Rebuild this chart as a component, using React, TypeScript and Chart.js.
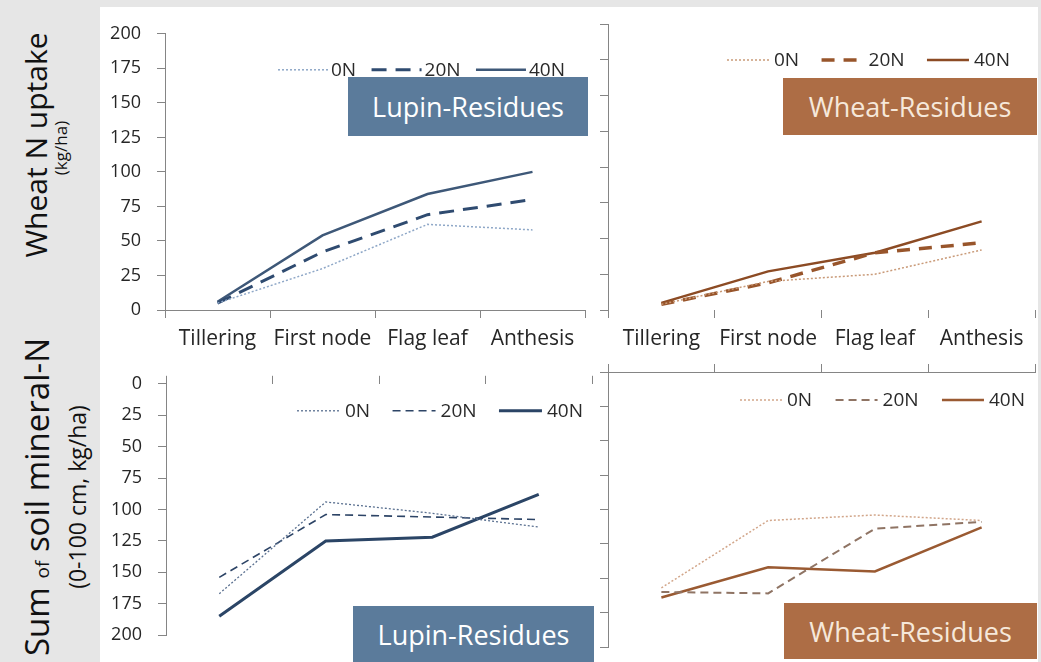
import React, { useEffect, useRef } from 'react';
import { Chart, registerables } from 'chart.js';

Chart.register(...registerables);

// ---------- data ----------
const categories = ['Tillering', 'First node', 'Flag leaf', 'Anthesis'];
const seriesLabels = ['0N', '20N', '40N'];
const yTickValues = [0, 25, 50, 75, 100, 125, 150, 175, 200];

// Wheat N uptake (kg/ha)
const lupinUptake0N = [5, 30, 62, 58];
const lupinUptake20N = [5, 42, 69, 80];
const lupinUptake40N = [6, 54, 84, 100];
const wheatUptake0N = [4, 20, 25, 42];
const wheatUptake20N = [4, 19, 40, 47];
const wheatUptake40N = [5, 27, 40, 62];

// Sum of soil mineral-N (0-100 cm, kg/ha)
const lupinSoilN0N = [167, 94, 103, 114];
const lupinSoilN20N = [154, 104, 106, 108];
const lupinSoilN40N = [185, 125, 122, 88];
const wheatSoilN0N = [157, 108, 104, 108];
const wheatSoilN20N = [160, 161, 114, 109];
const wheatSoilN40N = [164, 142, 145, 113];

// ---------- styles ----------
const FONT = "'Open Sans', 'Noto Sans', sans-serif";
const AXIS_COLOR = '#858585';
const TICK_COLOR = '#262626';

type LineStyle = { color: string; width: number; dash: number[] };

const lupinTopStyles: LineStyle[] = [
  { color: '#8ea7c7', width: 1.5, dash: [2, 2] },
  { color: '#2f4b70', width: 3, dash: [15, 9] },
  { color: '#3e5878', width: 2.5, dash: [] },
];
const wheatTopStyles: LineStyle[] = [
  { color: '#c99a78', width: 1.5, dash: [2, 2] },
  { color: '#98552b', width: 3.5, dash: [13, 9] },
  { color: '#8c4b24', width: 2.5, dash: [] },
];
const lupinBottomStyles: LineStyle[] = [
  { color: '#5a7090', width: 1.3, dash: [2, 2] },
  { color: '#2d4466', width: 1.6, dash: [8, 5] },
  { color: '#2b4566', width: 3, dash: [] },
];
const wheatBottomStyles: LineStyle[] = [
  { color: '#d2a68a', width: 1.5, dash: [2, 2] },
  { color: '#8f7464', width: 2, dash: [8, 5] },
  { color: '#9a5a32', width: 2.5, dash: [] },
];

// ---------- legend plugin (draws the chart's own datasets, justified between two edges) ----------
const inlineLegend = {
  id: 'inlineLegend',
  afterDraw(chart: any, _args: any, opts: any) {
    if (!opts || !opts.display) return;
    const ctx = chart.ctx as CanvasRenderingContext2D;
    const { left, right, y, sample, gap, size, color } = opts;
    ctx.save();
    ctx.font = `${size}px ${FONT}`;
    const items = chart.data.datasets.map((ds: any) => ({
      ds,
      w: ctx.measureText(ds.label).width,
    }));
    const x0 = chart.chartArea.left + left;
    const x1 = chart.chartArea.right - right;
    const used = items.reduce((s: number, it: any) => s + sample + gap + it.w, 0);
    const spacing = Math.max(4, (x1 - x0 - used) / (items.length - 1));
    let x = x0;
    const yy = chart.chartArea.top + y;
    items.forEach((it: any) => {
      ctx.beginPath();
      ctx.setLineDash(it.ds.borderDash || []);
      ctx.lineWidth = it.ds.borderWidth;
      ctx.strokeStyle = it.ds.borderColor;
      ctx.moveTo(x, yy);
      ctx.lineTo(x + sample, yy);
      ctx.stroke();
      ctx.setLineDash([]);
      x += sample + gap;
      ctx.fillStyle = color;
      ctx.textBaseline = 'middle';
      ctx.textAlign = 'left';
      ctx.fillText(it.ds.label, x, yy + 1);
      x += it.w + spacing;
    });
    ctx.restore();
  },
};

type PanelSpec = {
  values: number[][];
  styles: LineStyle[];
  reverse: boolean;
  xPos: 'top' | 'bottom';
  xLabels: boolean;
  xBorder: boolean;
  yLabels: boolean;
  padding: { left: number; top: number; right: number; bottom: number };
  xHeight: number;
  yWidth: number;
  legend: any;
};

function buildConfig(p: PanelSpec): any {
  return {
    type: 'line',
    data: {
      labels: categories,
      datasets: p.values.map((v, i) => ({
        label: seriesLabels[i],
        data: v,
        borderColor: p.styles[i].color,
        borderWidth: p.styles[i].width,
        borderDash: p.styles[i].dash,
        pointRadius: 0,
        pointHoverRadius: 0,
        fill: false,
        tension: 0,
        borderCapStyle: 'butt',
      })),
    },
    options: {
      responsive: false,
      animation: false,
      events: [],
      layout: { padding: p.padding },
      plugins: {
        legend: { display: false },
        tooltip: { enabled: false },
        inlineLegend: p.legend,
      },
      scales: {
        x: {
          type: 'category',
          position: p.xPos,
          offset: true,
          grid: {
            offset: true,
            drawOnChartArea: false,
            drawTicks: true,
            tickLength: 8,
            color: AXIS_COLOR,
            lineWidth: 1,
          },
          border: { display: p.xBorder, color: AXIS_COLOR, width: 1 },
          ticks: {
            display: p.xLabels,
            color: TICK_COLOR,
            font: { size: 21, family: FONT },
            padding: 8,
            maxRotation: 0,
            autoSkip: false,
          },
          afterFit: (s: any) => {
            s.height = p.xHeight;
          },
        },
        y: {
          type: 'linear',
          min: yTickValues[0],
          max: yTickValues[yTickValues.length - 1],
          reverse: p.reverse,
          grid: {
            drawOnChartArea: false,
            drawTicks: true,
            tickLength: 8,
            color: AXIS_COLOR,
            lineWidth: 1,
          },
          border: { display: true, color: AXIS_COLOR, width: 1 },
          ticks: {
            display: p.yLabels,
            stepSize: yTickValues[1] - yTickValues[0],
            color: TICK_COLOR,
            font: { size: 18, family: FONT },
            padding: 16,
          },
          afterFit: (s: any) => {
            s.width = p.yWidth;
          },
        },
      },
    },
    plugins: [inlineLegend],
  };
}

const legendBase = { display: true, size: 19, color: '#2a2a2a' };

const panels: { left: number; top: number; width: number; height: number; spec: PanelSpec }[] = [
  {
    left: 100,
    top: 7,
    width: 495,
    height: 350,
    spec: {
      values: [lupinUptake0N, lupinUptake20N, lupinUptake40N],
      styles: lupinTopStyles,
      reverse: false,
      xPos: 'bottom',
      xLabels: true,
      xBorder: true,
      yLabels: true,
      padding: { left: 0, top: 17, right: 10, bottom: 0 },
      xHeight: 47,
      yWidth: 65,
      legend: { ...legendBase, left: 113, right: 20, y: 36, sample: 50, gap: 3 },
    },
  },
  {
    left: 595,
    top: 7,
    width: 446,
    height: 350,
    spec: {
      values: [wheatUptake0N, wheatUptake20N, wheatUptake40N],
      styles: wheatTopStyles,
      reverse: false,
      xPos: 'bottom',
      xLabels: true,
      xBorder: false,
      yLabels: false,
      padding: { left: 0, top: 17, right: 6, bottom: 0 },
      xHeight: 47,
      yWidth: 13,
      legend: { ...legendBase, left: 119, right: 25, y: 36, sample: 42, gap: 5 },
    },
  },
  {
    left: 100,
    top: 357,
    width: 495,
    height: 305,
    spec: {
      values: [lupinSoilN0N, lupinSoilN20N, lupinSoilN40N],
      styles: lupinBottomStyles,
      reverse: true,
      xPos: 'top',
      xLabels: false,
      xBorder: false,
      yLabels: true,
      padding: { left: 0, top: 0, right: 3, bottom: 15 },
      xHeight: 15,
      yWidth: 66,
      legend: { ...legendBase, left: 131, right: 9, y: 27, sample: 43, gap: 5 },
    },
  },
  {
    left: 595,
    top: 357,
    width: 446,
    height: 305,
    spec: {
      values: [wheatSoilN0N, wheatSoilN20N, wheatSoilN40N],
      styles: wheatBottomStyles,
      reverse: true,
      xPos: 'top',
      xLabels: false,
      xBorder: true,
      yLabels: false,
      padding: { left: 0, top: 0, right: 6, bottom: 15 },
      xHeight: 15,
      yWidth: 13,
      legend: { ...legendBase, left: 132, right: 10, y: 28, sample: 42, gap: 5 },
    },
  },
];

const boxes = [
  { left: 348, top: 77, width: 240, height: 59, bg: '#5b7b9b', color: '#ffffff', text: 'Lupin-Residues' },
  { left: 353, top: 606, width: 241, height: 56, bg: '#5b7b9b', color: '#ffffff', text: 'Lupin-Residues' },
  { left: 783, top: 78, width: 254, height: 57, bg: '#ad6d45', color: '#f6e8da', text: 'Wheat-Residues' },
  { left: 784, top: 603, width: 253, height: 56, bg: '#ad6d45', color: '#f6e8da', text: 'Wheat-Residues' },
];

function Rotated({ cx, cy, size, children }: { cx: number; cy: number; size: number; children: any }) {
  return (
    <div
      style={{
        position: 'absolute',
        left: cx,
        top: cy,
        transform: 'translate(-50%, -50%) rotate(-90deg)',
        whiteSpace: 'nowrap',
        fontSize: size,
        lineHeight: 1,
        color: '#111',
        fontFamily: FONT,
      }}
    >
      {children}
    </div>
  );
}

export default function App() {
  const refs = [useRef<HTMLCanvasElement>(null), useRef<HTMLCanvasElement>(null), useRef<HTMLCanvasElement>(null), useRef<HTMLCanvasElement>(null)];

  useEffect(() => {
    const charts: Chart[] = [];
    panels.forEach((p, i) => {
      const c = refs[i].current;
      if (!c) return;
      charts.push(new Chart(c, buildConfig(p.spec)));
    });
    return () => charts.forEach((ch) => ch.destroy());
  }, []);

  return (
    <div
      style={{
        position: 'absolute',
        left: 0,
        top: 0,
        width: 1041,
        height: 662,
        background: '#e6e6e6',
        overflow: 'hidden',
        fontFamily: FONT,
      }}
    >
      <div style={{ position: 'absolute', left: 100, top: 7, width: 938, height: 655, background: '#ffffff' }} />
      {panels.map((p, i) => (
        <canvas
          key={i}
          ref={refs[i]}
          width={p.width}
          height={p.height}
          style={{ position: 'absolute', left: p.left, top: p.top, width: p.width, height: p.height }}
        />
      ))}
      {boxes.map((b, i) => (
        <div
          key={'b' + i}
          style={{
            position: 'absolute',
            left: b.left,
            top: b.top,
            width: b.width,
            height: b.height,
            background: b.bg,
            color: b.color,
            fontSize: 27,
            fontFamily: FONT,
            display: 'flex',
            alignItems: 'center',
            justifyContent: 'center',
            whiteSpace: 'nowrap',
          }}
        >
          {b.text}
        </div>
      ))}
      <Rotated cx={36} cy={145} size={30}>Wheat N uptake</Rotated>
      <Rotated cx={60} cy={148} size={17}>(kg/ha)</Rotated>
      <Rotated cx={36} cy={497} size={33}>
        Sum <span style={{ fontSize: 19 }}>of</span> soil mineral-N
      </Rotated>
      <Rotated cx={77} cy={497} size={23}>(0-100 cm, kg/ha)</Rotated>
    </div>
  );
}
